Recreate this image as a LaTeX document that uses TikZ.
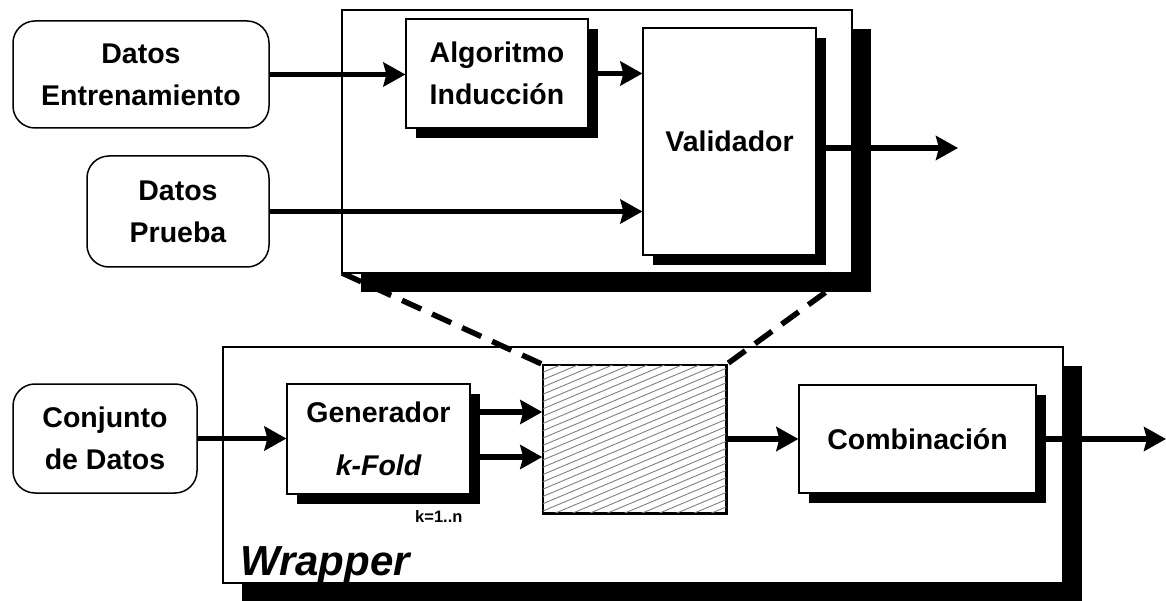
\documentclass[tikz,border=0pt]{standalone}
\usepackage{fontspec}
\setmainfont{Liberation Sans}
\usetikzlibrary{arrows.meta,shadows,calc}

\tikzset{
  lbl/.style={font=\fontsize{28.5}{42}\selectfont\bfseries, align=center},
  source/.style={draw, line width=1.5pt, rounded corners=22pt, fill=white,
                 inner sep=0pt, lbl},
  panel/.style={draw, line width=2.5pt, fill=white, inner sep=0pt,
                drop shadow={shadow xshift=19pt, shadow yshift=-19pt,
                             opacity=1, fill=black}},
  block/.style={draw, line width=1.2pt, fill=white, inner sep=0pt, lbl,
                drop shadow={shadow xshift=10pt, shadow yshift=-10pt,
                             opacity=1, fill=black}},
  flow/.style={line width=5.5pt,
               -{Stealth[length=22pt, width=24pt, inset=3pt]}},
  zoomline/.style={line width=5.5pt, dash pattern=on 21pt off 12pt},
  hatchline/.style={line width=0.9pt, gray},
}

\begin{document}
\begin{tikzpicture}[x=1pt, y=-1pt]
\useasboundingbox (0,0) rectangle (1166,601);

% ---------- lower level: the wrapper ----------
\node[panel, minimum width=840pt, minimum height=236pt] (wrap) at (643,465) {};
\node[font=\fontsize{42}{50}\selectfont\bfseries\itshape, anchor=base west,
      inner sep=0pt] (wraplbl) at (240,575) {Wrapper};

\node[source, minimum width=184pt, minimum height=109pt] (conj) at (105,438.5)
  {Conjunto\\de Datos};

\node[block, minimum width=183pt, minimum height=110pt] (gen) at (378.5,439) {};
\node[lbl, inner sep=0pt] (gentxt) at (378.5,412) {Generador};
\node[lbl, inner sep=0pt] (kfold) at (378.5,465) {\itshape k-Fold};
\node[font=\fontsize{16.5}{20}\selectfont\bfseries, anchor=base west,
      inner sep=0pt] (krange) at (415,522) {k=1..n};

\node[draw, line width=1.5pt, fill=white, inner sep=0pt,
      minimum width=183pt, minimum height=148pt] (hatch) at (634.5,439) {};
\begin{scope}
  \clip (hatch.south west) rectangle (hatch.north east);
  \foreach \k in {0,...,32}
    \draw[hatchline] (543,{365+\k*7.3}) -- ++(183,-77);
\end{scope}
\draw[line width=1.5pt] (hatch.south west) rectangle (hatch.north east);

\node[block, minimum width=237pt, minimum height=108pt] (comb) at (917.5,439)
  {Combinación};

% ---------- zoom lines from the inner box up to the detail view ----------
\coordinate (panelsw) at (342,273);
\coordinate (panelse) at (852,273);
\draw[zoomline] (panelsw) -- (hatch.north west);
\draw[zoomline] (panelse) -- (hatch.north east);

% ---------- upper level: the detail view ----------
\node[panel, minimum width=510pt, minimum height=263pt] (view) at (597,141.5) {};

\node[source, minimum width=256pt, minimum height=107pt] (ent) at (141,74.5)
  {Datos\\Entrenamiento};
\node[source, minimum width=182pt, minimum height=111pt] (pru) at (178,211.5)
  {Datos\\Prueba};

\node[block, minimum width=182pt, minimum height=109pt] (alg) at (497,73.5)
  {Algoritmo\\Inducción};
\node[block, minimum width=173pt, minimum height=227pt] (val) at (729.5,141.5)
  {Validador};

% ---------- connectors ----------
\draw[flow] (ent.east) -- (ent.east -| alg.west);
\draw[flow] (alg.east) -- (alg.east -| val.west);
\draw[flow] (pru.east) -- (pru.east -| val.west);
\coordinate (valout) at (958,148);
\draw[flow] (valout -| val.east) -- (valout);

\draw[flow] (conj.east) -- (conj.east -| gen.west);
\coordinate (g1) at ([yshift=27pt]gen.east);
\coordinate (g2) at ([yshift=-18pt]gen.east);
\draw[flow] (g1) -- (g1 -| hatch.west);
\draw[flow] (g2) -- (g2 -| hatch.west);
\draw[flow] (hatch.east) -- (comb.west);
\coordinate (combout) at (1166,439);
\draw[flow] (comb.east) -- (combout);
\end{tikzpicture}
\end{document}
